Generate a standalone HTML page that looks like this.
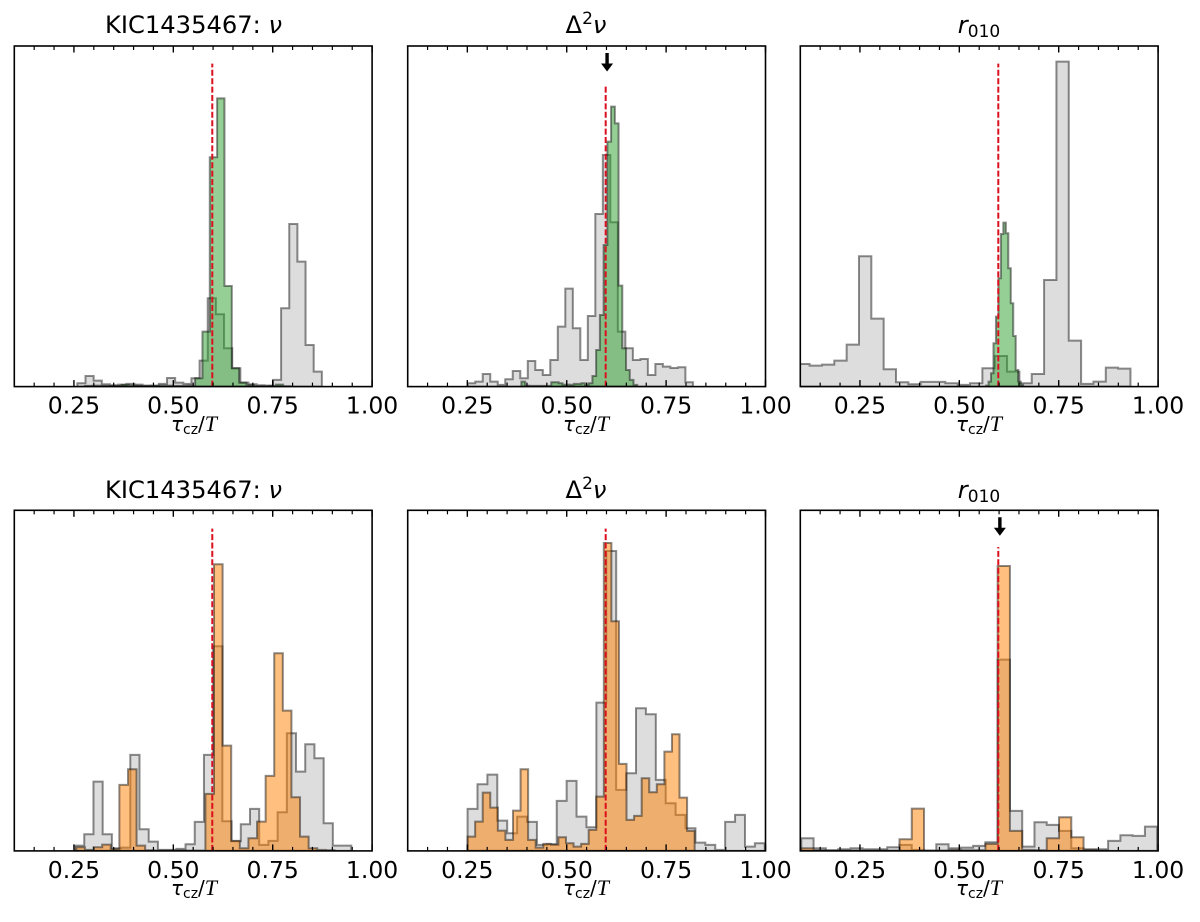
<!DOCTYPE html>
<html lang="en">
<head>
<meta charset="utf-8">
<title>KIC1435467 histograms</title>
<style>
html,body{margin:0;padding:0;background:#fff;}
svg{display:block;font-family:"DejaVu Sans","Liberation Sans",sans-serif;fill:#000;filter:blur(0.35px);}
.title{font-size:24.2px;text-anchor:middle;}
.xl{font-size:20px;text-anchor:middle;}
.tl{font-size:23.5px;text-anchor:middle;}
</style>
</head>
<body>
<svg id="figure" xmlns="http://www.w3.org/2000/svg" width="1200" height="922" viewBox="0 0 1200 922">
  <rect x="0" y="0" width="1200" height="922" fill="#fff"/>
  <g id="panel-0"></g>
  <g id="panel-1"></g>
  <g id="panel-2"></g>
  <g id="panel-3"></g>
  <g id="panel-4"></g>
  <g id="panel-5"></g>

  <text class="title" x="193.5" y="33">KIC1435467: <tspan font-style="italic">ν</tspan></text>
  <text class="title" x="586" y="33">Δ<tspan font-size="17" dy="-9">2</tspan><tspan font-style="italic" dy="9">ν</tspan></text>
  <text class="title" x="979" y="33"><tspan font-style="italic">r</tspan><tspan font-size="17" dy="4">010</tspan></text>
  <text class="title" x="193.5" y="498">KIC1435467: <tspan font-style="italic">ν</tspan></text>
  <text class="title" x="586" y="498">Δ<tspan font-size="17" dy="-9">2</tspan><tspan font-style="italic" dy="9">ν</tspan></text>
  <text class="title" x="979" y="498"><tspan font-style="italic">r</tspan><tspan font-size="17" dy="4">010</tspan></text>

  <text class="xl" x="194" y="431"><tspan font-style="italic">τ</tspan><tspan font-size="14" dy="3">cz</tspan><tspan dy="-3">/</tspan><tspan font-family="Liberation Serif" font-style="italic" font-size="22">T</tspan></text>
  <text class="xl" x="586" y="431"><tspan font-style="italic">τ</tspan><tspan font-size="14" dy="3">cz</tspan><tspan dy="-3">/</tspan><tspan font-family="Liberation Serif" font-style="italic" font-size="22">T</tspan></text>
  <text class="xl" x="979" y="431"><tspan font-style="italic">τ</tspan><tspan font-size="14" dy="3">cz</tspan><tspan dy="-3">/</tspan><tspan font-family="Liberation Serif" font-style="italic" font-size="22">T</tspan></text>
  <text class="xl" x="194" y="895"><tspan font-style="italic">τ</tspan><tspan font-size="14" dy="3">cz</tspan><tspan dy="-3">/</tspan><tspan font-family="Liberation Serif" font-style="italic" font-size="22">T</tspan></text>
  <text class="xl" x="586" y="895"><tspan font-style="italic">τ</tspan><tspan font-size="14" dy="3">cz</tspan><tspan dy="-3">/</tspan><tspan font-family="Liberation Serif" font-style="italic" font-size="22">T</tspan></text>
  <text class="xl" x="979" y="895"><tspan font-style="italic">τ</tspan><tspan font-size="14" dy="3">cz</tspan><tspan dy="-3">/</tspan><tspan font-family="Liberation Serif" font-style="italic" font-size="22">T</tspan></text>
</svg>
<script>
// Axis values
const xMin = 0.1;
const xMax = 1.0;
const yMax = 102.2;
const majorTicks = [0.25, 0.5, 0.75, 1.0];
const tickLabels = ["0.25", "0.50", "0.75", "1.00"];
const minorTicks = [0.15, 0.2, 0.3, 0.35, 0.4, 0.45, 0.55, 0.6, 0.65, 0.7, 0.8, 0.85, 0.9, 0.95];

// Top row, nu
const nuTopGrayStart = 0.2586;
const nuTopGrayWidth = 0.0205;
const nuTopGrayValues = [1, 3.2, 1.8, 0.7, 0.4, 0.6, 0.8, 0.6, 0.3, 0.2, 0.8, 2.6, 1.2, 0.8, 2.5, 7.8, 26.5, 21.7, 11.5, 5.5, 1.2, 0.7, 0.4, 0.3, 2, 23.5, 48.8, 37.5, 12.5, 4.5];
const nuTopGreenStart = 0.2779;
const nuTopGreenWidth = 0.01846;
const nuTopGreenValues = [0.2, 0.3, 0.2, 0.2, 0.2, 0.5, 0.3, 0.2, 0.2, 0.3, 0.3, 0.3, 0.2, 0.2, 0.3, 2.5, 16.5, 68.8, 86.5, 30.2, 5.5, 1.2, 0.4, 0.1, 0.1, 0.2, 0.6, 0.1];

// Top row, second differences
const d2TopGrayStart = 0.251;
const d2TopGrayWidth = 0.01888;
const d2TopGrayValues = [1, 1.5, 3.8, 1.5, 0.5, 2.2, 4.7, 2.5, 7.7, 5, 3.5, 8, 18, 29.4, 17.5, 8, 21.2, 51.8, 69.5, 49.3, 16.5, 11.5, 8, 8.3, 3.5, 6.8, 6, 5.6, 5.8, 1.3];
const d2TopGreenStart = 0.386;
const d2TopGreenWidth = 0.0094;
const d2TopGreenValues = [1.5, 0.3, 0.2, 0.2, 0.2, 0.2, 0.2, 0.2, 1.3, 1.3, 1, 0.6, 0.6, 0.5, 0.8, 0.8, 1, 0.6, 1, 3.2, 11, 21.5, 42.5, 73.5, 84, 79, 30.3, 11.5, 5, 2, 0.5];

// Top row, r010
const rTopGrayStart = 0.0924;
const rTopGrayWidth = 0.03104;
const rTopGrayValues = [6.8, 6.3, 6.6, 7.8, 12.6, 39.1, 20.4, 5.2, 1.3, 0.7, 1.4, 1.4, 1, 0.5, 1, 5.5, 9.2, 4.5, 1, 3.8, 32, 97.5, 13.8, 0.8, 1.5, 5.7, 5.4];
const rTopGreenStart = 0.5673;
const rTopGreenWidth = 0.00621;
const rTopGreenValues = [0.3, 1.5, 4, 13, 21, 32.5, 45.8, 49.2, 46, 35.5, 25, 15.2, 5, 1.5, 0.5];

// Bottom row, nu
const nuBotGrayStart = 0.2528;
const nuBotGrayWidth = 0.02316;
const nuBotGrayValues = [1.6, 5, 20.8, 5, 0.8, 1, 28.8, 6.5, 2.8, 0.3, 0.3, 0.6, 2, 8.7, 28.8, 61.4, 8.9, 2.9, 8, 12.6, 1.8, 3, 11.6, 35.3, 23.8, 32, 27.8, 8.3, 1.6, 1.6];
const nuBotOrangeStart = 0.2561;
const nuBotOrangeWidth = 0.02164;
const nuBotOrangeValues = [1.1, 0.3, 1.1, 1.9, 0.5, 19.8, 24.5, 1.6, 0.2, 0.1, 0.1, 0.1, 0.1, 0.1, 0.1, 17.1, 86, 31.6, 3, 0.8, 3.8, 8.8, 22.5, 59.3, 42.1, 16.1, 4.3, 0.8, 0.3, 0.2];

// Bottom row, second differences
const d2BotGrayStart = 0.2506;
const d2BotGrayWidth = 0.02492;
const d2BotGrayValues = [12.6, 20, 22.9, 9.1, 5.3, 10.3, 8.7, 1.8, 2, 15, 21, 10.3, 7.1, 44.5, 90, 18.3, 23.3, 42.8, 41, 21.3, 14.3, 10.8, 6.8, 2.5, 1.8, 0.3, 8.7, 10.8, 1.3, 2.3];
const d2BotOrangeStart = 0.2506;
const d2BotOrangeWidth = 0.01904;
const d2BotOrangeValues = [4.3, 8.8, 17.5, 13, 6.1, 3.3, 12.1, 24.5, 3.3, 1, 2.1, 1.9, 4.1, 2.3, 1.3, 2.1, 6.3, 16.3, 92.4, 68.9, 26.1, 9.3, 10.5, 21.8, 17.6, 20, 29.8, 35, 16, 6];

// Bottom row, r010
const rBotGrayStart = 0.1025;
const rBotGrayWidth = 0.03087;
const rBotGrayValues = [3.8, 0.8, 0.2, 0.5, 0.8, 0.5, 0.5, 1.1, 1.8, 0.3, 0.1, 2, 0.8, 1, 1.5, 2.6, 57.4, 12, 1.3, 8.6, 7.8, 6, 0.8, 0.5, 0.5, 3, 4.7, 4.5, 7.3];
const rBotOrangeStart = 0.1025;
const rBotOrangeWidth = 0.03087;
const rBotOrangeValues = [0.8, 0.2, 0.1, 0.1, 0.1, 0.1, 0.1, 0.1, 3.5, 12.7, 0.1, 0.1, 0.3, 0.2, 0.2, 2.1, 85.5, 6, 0.3, 0.2, 3.8, 10.1, 4.1, 0.3, 0.1];

// Reference line and arrows
const trueValue = 0.598;
const referenceHeights = [96.9, 90.3, 96.9, 96.7, 96.7, 91.2];
const arrowPanels = [1, 5];
const arrowValues = [0.6015, 0.602];

const panelNames = ["nu-top", "d2nu-top", "r010-top", "nu-bottom", "d2nu-bottom", "r010-bottom"];
const grayStarts = [nuTopGrayStart, d2TopGrayStart, rTopGrayStart, nuBotGrayStart, d2BotGrayStart, rBotGrayStart];
const grayWidths = [nuTopGrayWidth, d2TopGrayWidth, rTopGrayWidth, nuBotGrayWidth, d2BotGrayWidth, rBotGrayWidth];
const grayValues = [nuTopGrayValues, d2TopGrayValues, rTopGrayValues, nuBotGrayValues, d2BotGrayValues, rBotGrayValues];
const colorStarts = [nuTopGreenStart, d2TopGreenStart, rTopGreenStart, nuBotOrangeStart, d2BotOrangeStart, rBotOrangeStart];
const colorWidths = [nuTopGreenWidth, d2TopGreenWidth, rTopGreenWidth, nuBotOrangeWidth, d2BotOrangeWidth, rBotOrangeWidth];
const colorValues = [nuTopGreenValues, d2TopGreenValues, rTopGreenValues, nuBotOrangeValues, d2BotOrangeValues, rBotOrangeValues];

const SVG_NS = "http://www.w3.org/2000/svg";
const lefts = [14.3, 407.7, 800.3, 14.3, 407.7, 800.3];
const tops = [46, 46, 46, 510.3, 510.3, 510.3];
const plotWidth = 357.8;
const plotHeight = 340.6;
const labelOffset = 27;

function make(tag, attrs) {
  const el = document.createElementNS(SVG_NS, tag);
  for (const k in attrs) el.setAttribute(k, attrs[k]);
  return el;
}

function stepPath(start, width, values, xf, yf) {
  let d = "M" + xf(start).toFixed(2) + " " + yf(0).toFixed(2);
  values.forEach(function (v, i) {
    d += "L" + xf(start + i * width).toFixed(2) + " " + yf(v).toFixed(2);
    d += "L" + xf(start + (i + 1) * width).toFixed(2) + " " + yf(v).toFixed(2);
  });
  d += "L" + xf(start + values.length * width).toFixed(2) + " " + yf(0).toFixed(2) + "Z";
  return d;
}

panelNames.forEach(function (name, p) {
  const g = document.getElementById("panel-" + p);
  const left = lefts[p];
  const top = tops[p];
  const xf = function (v) { return left + (v - xMin) / (xMax - xMin) * plotWidth; };
  const yf = function (v) { return top + plotHeight - v / yMax * plotHeight; };
  const bottom = top + plotHeight;

  const clip = make("clipPath", { id: "clip-" + p });
  clip.appendChild(make("rect", { x: left, y: top, width: plotWidth, height: plotHeight }));
  g.appendChild(clip);

  const gray = make("path", {
    d: stepPath(grayStarts[p], grayWidths[p], grayValues[p], xf, yf),
    fill: "rgba(128,128,128,0.27)",
    stroke: "rgba(0,0,0,0.45)",
    "stroke-width": 2,
    "stroke-linejoin": "miter",
    "clip-path": "url(#clip-" + p + ")"
  });
  
  
  g.appendChild(gray);

  const fillColor = p < 3 ? "rgba(44,160,44,0.5)" : "rgba(255,127,0,0.5)";
  const colored = make("path", {
    d: stepPath(colorStarts[p], colorWidths[p], colorValues[p], xf, yf),
    fill: fillColor,
    stroke: "rgba(0,0,0,0.45)",
    "stroke-width": 2,
    "stroke-linejoin": "miter",
    "clip-path": "url(#clip-" + p + ")"
  });
  
  
  g.appendChild(colored);

  const ref = make("line", {
    x1: xf(trueValue), x2: xf(trueValue), y1: yf(0), y2: yf(referenceHeights[p]),
    stroke: "#dc0f1e", "stroke-width": 2, "stroke-dasharray": "6 2.4"
  });
  
  
  g.appendChild(ref);

  minorTicks.forEach(function (t) {
    const tickB = make("line", { x1: xf(t), x2: xf(t), y1: bottom, y2: bottom - 4, stroke: "#000", "stroke-width": 1.2 });
    
    
    g.appendChild(tickB);
    const tickT = make("line", { x1: xf(t), x2: xf(t), y1: top, y2: top + 4, stroke: "#000", "stroke-width": 1.2 });
    
    
    g.appendChild(tickT);
  });

  majorTicks.forEach(function (t, i) {
    const tickB = make("line", { x1: xf(t), x2: xf(t), y1: bottom, y2: bottom - 6.5, stroke: "#000", "stroke-width": 1.4 });
    
    
    g.appendChild(tickB);
    const tickT = make("line", { x1: xf(t), x2: xf(t), y1: top, y2: top + 6.5, stroke: "#000", "stroke-width": 1.4 });
    
    
    g.appendChild(tickT);
    const label = make("text", { class: "tl", x: xf(t), y: bottom + labelOffset });
    label.textContent = tickLabels[i];
    
    
    g.appendChild(label);
  });

  const spine = make("rect", { x: left, y: top, width: plotWidth, height: plotHeight, fill: "none", stroke: "#000", "stroke-width": 1.6 });
  
  
  g.appendChild(spine);

  const arrowIndex = arrowPanels.indexOf(p);
  if (arrowIndex >= 0) {
    const ax = xf(arrowValues[arrowIndex]);
    const ay = top + 7;
    const arrow = make("path", {
      d: "M" + (ax - 1.7) + " " + ay + "V" + (ay + 10.5) + "H" + (ax - 6) + "L" + ax + " " + (ay + 18.5) + "L" + (ax + 6) + " " + (ay + 10.5) + "H" + (ax + 1.7) + "V" + ay + "Z",
      fill: "#000"
    });
    
    
    g.appendChild(arrow);
  }
});
</script>
</body>
</html>
